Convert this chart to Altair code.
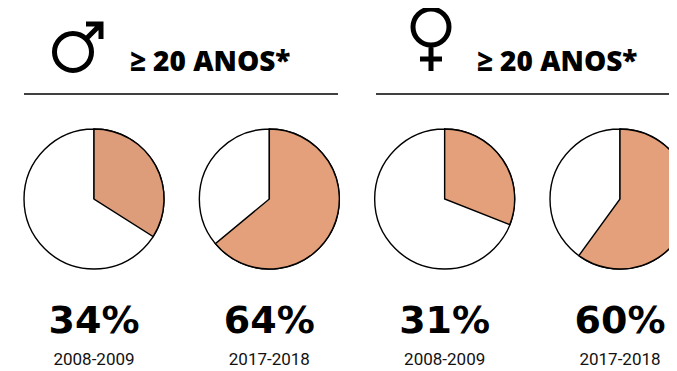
import altair as alt
import pandas as pd

shares = [34, 64, 31, 60]
labels = ["34%", "64%", "31%", "60%"]
year_labels = ["2008-2009", "2017-2018", "2008-2009", "2017-2018"]
slots = ["a", "b", "c", "d"]
heading = "≥ 20 ANOS*"
colors = ["#DD9D7B", "#E3A07A", "#E3A07A", "#E3A07A"]

df = pd.DataFrame({"slot": slots, "share": shares, "label": labels,
                   "year": year_labels, "start": [0] * 4, "full": [100] * 4,
                   "color": colors})

x = alt.X("slot:N", axis=None, scale=alt.Scale(domain=slots, range=[86, 612], padding=0))
theta_scale = alt.Scale(domain=[0, 100], range=[0, 6.283185307])
base = alt.Chart(df)
cy = alt.value(191)

back = base.mark_arc(outerRadius=70, fill="white", stroke="black", strokeWidth=1.4).encode(
    x=x, y=cy,
    theta=alt.Theta("start:Q", scale=theta_scale, stack=None),
    theta2=alt.Theta2("full:Q"))
slice_ = base.mark_arc(outerRadius=70, stroke="black", strokeWidth=1.4).encode(
    x=x, y=cy,
    theta=alt.Theta("start:Q", scale=theta_scale, stack=None),
    theta2=alt.Theta2("share:Q"),
    fill=alt.Fill("color:N", scale=None))
pct = base.mark_text(font="DejaVu Sans", fontWeight="bold", fontSize=38, color="black").encode(
    x=x, y=alt.value(314), text="label:N")
yrs = base.mark_text(font="Roboto", fontSize=17, color="#111").encode(
    x=x, y=alt.value(352), text="year:N")

hd = alt.Chart(pd.DataFrame({"t": [heading, heading], "px": [122, 469]})).mark_text(
    font="Open Sans", fontWeight=800, fontSize=28, align="left", color="black"
).encode(x=alt.X("px:Q", axis=None, scale=None), y=alt.value(55), text="t:N")

rules = alt.Chart(pd.DataFrame({"a": [16, 368], "b": [330, 661]})).mark_rule(
    color="black", strokeWidth=1.4
).encode(x=alt.X("a:Q", axis=None, scale=None), x2="b:Q", y=alt.value(86))

male = ("M0.185 0A0.185 0.185 0 1 1 -0.185 0A0.185 0.185 0 1 1 0.185 0Z"
        "M0.13 -0.13L0.28 -0.28M0.13 -0.28L0.28 -0.28L0.28 -0.13")
female = ("M0.18 0A0.18 0.18 0 1 1 -0.18 0A0.18 0.18 0 1 1 0.18 0Z"
          "M0 0.18L0 0.44M-0.11 0.32L0.11 0.32")
one = pd.DataFrame({"k": [0]})
m_icon = alt.Chart(one).mark_point(shape=male, size=40000, filled=False, stroke="black",
                                   strokeWidth=5, opacity=1).encode(
    x=alt.value(65), y=alt.value(44))
f_icon = alt.Chart(one).mark_point(shape=female, size=40000, filled=False, stroke="black",
                                   strokeWidth=5, opacity=1).encode(
    x=alt.value(423), y=alt.value(19))

chart = alt.layer(back, slice_, pct, yrs, hd, rules, m_icon, f_icon).properties(
    width=661, height=360, padding=0, autosize=alt.AutoSizeParams(type="none")
).configure_view(stroke=None)
chart.save("out.html", embed_options={"renderer": "svg", "actions": False})
